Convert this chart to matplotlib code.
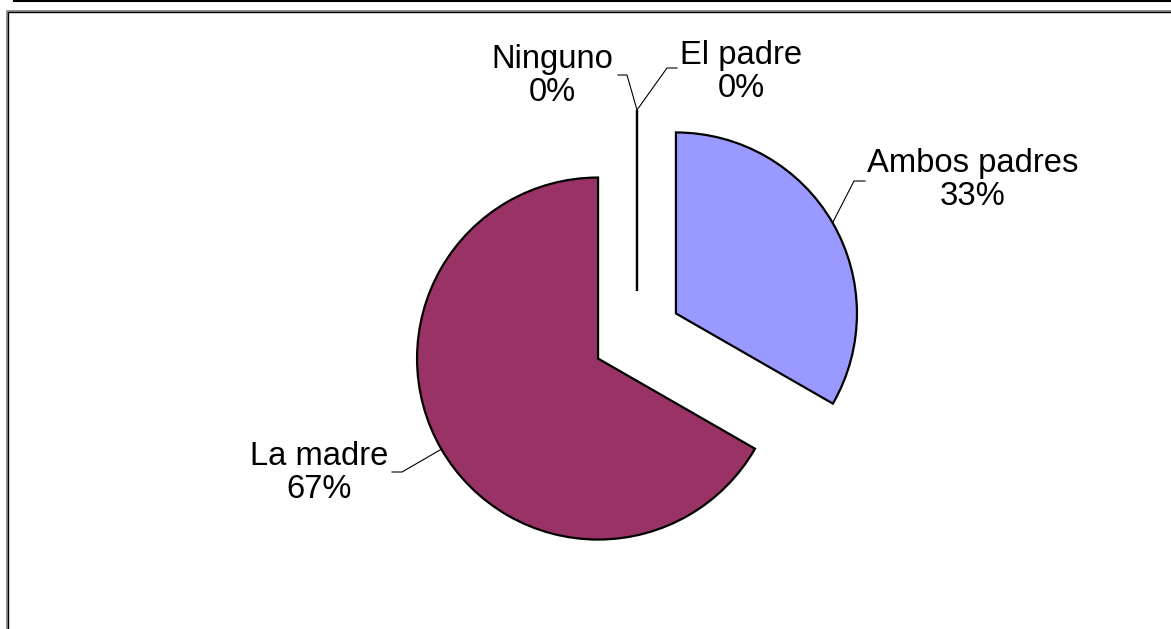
import numpy as np
import matplotlib.pyplot as plt
from matplotlib.lines import Line2D

plt.rcParams["font.family"] = ["Liberation Sans", "DejaVu Sans"]

# data
categories = ["Ambos padres", "La madre", "Ninguno", "El padre"]
shares = [33.3, 66.7, 0, 0]
pct_labels = ["33%", "67%", "0%", "0%"]

colors = ["#9999FF", "#993366", "#FFFFFF", "#FFFFFF"]

W, H = 1171, 629
fig = plt.figure(figsize=(W / 100, H / 100), dpi=100)
ax = fig.add_axes([0, 0, 1, 1])

# pie placed in pixel-like data units (y up); explode is in data units
wedges, _ = ax.pie(
    shares,
    explode=[45] * len(shares),
    colors=colors,
    startangle=90,
    counterclock=False,
    radius=181,
    center=(637, 293),
    wedgeprops=dict(edgecolor="black", linewidth=1.6),
)
ax.set_xlim(0, W)
ax.set_ylim(0, H)
ax.set_aspect("equal")
ax.axis("off")

# label layout: text centre, leader elbow, leader end
label_pos = [(973, 449), (319, 156), (552, 553), (741, 557)]
elbow_pos = [(854, 448), (402, 157), (627, 554), (667, 561)]
end_pos = [(865, 448), (392, 157), (618, 554), (677, 561)]

for w, cat, pct, tp, ep, lp in zip(wedges, categories, pct_labels, label_pos, elbow_pos, end_pos):
    mid = np.deg2rad((w.theta1 + w.theta2) / 2)
    ax0 = w.center[0] + w.r * np.cos(mid)
    ay0 = w.center[1] + w.r * np.sin(mid)
    ax.plot([ax0, ep[0], lp[0]], [ay0, ep[1], lp[1]], color="black", lw=0.8,
            solid_joinstyle="miter")
    ax.text(tp[0], tp[1], f"{cat}\n{pct}", ha="center", va="center",
            fontsize=23.6, linespacing=1.07)

# frame lines of the original chart area
fig.add_artist(Line2D([14 / W, 1], [1 - 0.8 / H, 1 - 0.8 / H], color="black", lw=1.5))
fig.add_artist(Line2D([6.5 / W, 6.5 / W, 1], [0, 1 - 10.5 / H, 1 - 10.5 / H], color="#808080", lw=1.2))
fig.add_artist(Line2D([8 / W, 8 / W, 1], [0, 1 - 12 / H, 1 - 12 / H], color="black", lw=1.0))

fig.savefig("out.png", dpi=100)
